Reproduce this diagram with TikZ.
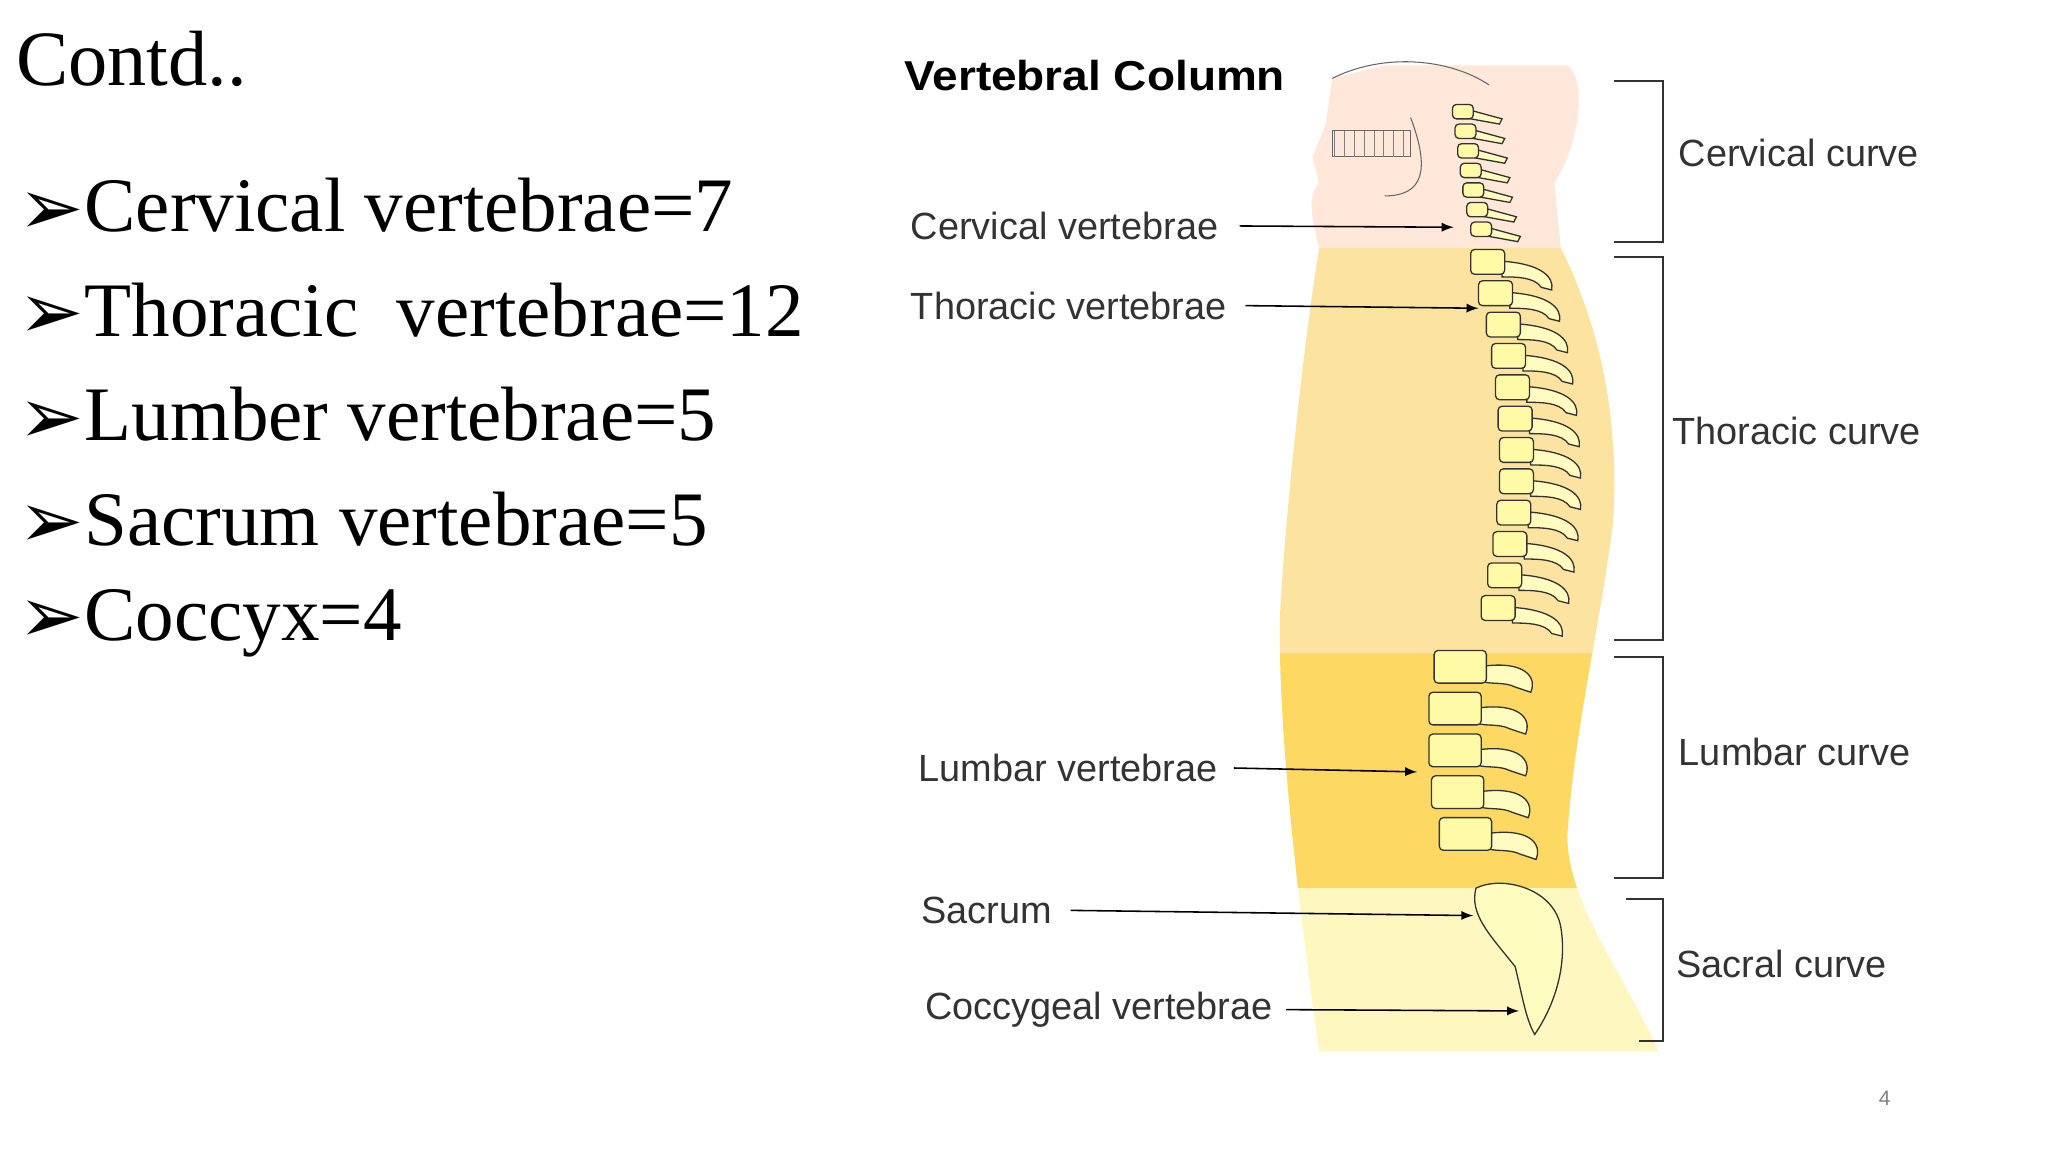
\documentclass[tikz,border=0pt]{standalone}
\usepackage{fontspec}
\setmainfont{Liberation Serif}
\newfontfamily\lab{Liberation Sans}
\newfontfamily\dv{DejaVu Sans}
\newcommand{\bul}{{\dv\fontsize{30}{30}\selectfont\raisebox{-1pt}{➢}}}
\begin{document}
\begin{tikzpicture}[x=0.5pt,y=-0.5pt,
  bullet/.style={anchor=west,font=\fontsize{29.5}{32}\selectfont,inner sep=0},
  lbl/.style={anchor=west,font=\lab\fontsize{14.5}{16}\selectfont,inner sep=0,text=black!80},
  arr/.style={-latex,semithick},
  brk/.style={thick,black!80},
  vb/.style={fill=yellow!35,draw=black!80,line width=0.5pt,rounded corners=1.5pt},
  sp/.style={fill=yellow!25,draw=black!80,line width=0.5pt}]
\useasboundingbox (0,0) rectangle (1568,882);
% body silhouette
\begin{scope}
\clip (1010,190) .. controls (1000,250) and (985,380) .. (980,470)
  .. controls (978,560) and (995,700) .. (1010,805) -- (1270,805)
  .. controls (1240,740) and (1200,690) .. (1200,640)
  .. controls (1205,560) and (1225,480) .. (1235,400)
  .. controls (1240,320) and (1225,250) .. (1195,190) -- cycle;
\fill[yellow!45!orange!35] (900,190) rectangle (1300,500);
\fill[yellow!55!orange!60] (900,500) rectangle (1300,680);
\fill[orange!25!yellow!25] (900,680) rectangle (1300,810);
\end{scope}
% head / neck
\fill[red!20!orange!15] (1010,190) .. controls (1005,170) and (1000,150) .. (1010,140)
  -- (1005,120) -- (1015,95) -- (1020,60) -- (1060,50) -- (1200,50)
  .. controls (1215,60) and (1210,110) .. (1190,140) -- (1195,190) -- cycle;
\draw[black!60] (1020,60) .. controls (1060,40) and (1110,45) .. (1140,65);
\draw[black!60] (1020,100) rectangle (1080,120);
\foreach \i in {0,...,7}{\draw[black!50] (1022+7.5*\i,100) -- (1022+7.5*\i,120);}
\draw[black!60] (1080,90) .. controls (1095,130) and (1090,150) .. (1060,150);
% spine: cervical
\foreach \y/\x in {85/1120,100/1122,115/1124,130/1126,145/1128,160/1131,175/1134}{
  \draw[sp] (\x+8,\y) -- (\x+30,\y+6) -- (\x+28,\y+10) -- (\x+6,\y+6) -- cycle;
  \draw[vb] (\x-8,\y-5) rectangle (\x+8,\y+6);}
% thoracic
\foreach \y/\x in {200/1140,224/1146,248/1152,272/1156,296/1159,320/1161,344/1162,368/1162,392/1160,416/1157,440/1153,465/1148}{
  \draw[sp] (\x+10,\y) .. controls (\x+40,\y+2) and (\x+50,\y+12) .. (\x+48,\y+22) -- (\x+40,\y+20) .. controls (\x+35,\y+12) and (\x+20,\y+12) .. (\x+10,\y+12) -- cycle;
  \draw[vb] (\x-14,\y-9) rectangle (\x+12,\y+10);}
% lumbar
\foreach \y/\x in {510/1122,542/1118,574/1118,606/1120,638/1126}{
  \draw[sp] (\x+14,\y) .. controls (\x+45,\y-4) and (\x+55,\y+8) .. (\x+50,\y+20) -- (\x+38,\y+16) .. controls (\x+30,\y+12) and (\x+20,\y+14) .. (\x+14,\y+12) -- cycle;
  \draw[vb] (\x-24,\y-12) rectangle (\x+16,\y+13);}
% sacrum + coccyx
\draw[sp] (1130,680) .. controls (1150,670) and (1190,680) .. (1195,710)
  .. controls (1200,740) and (1190,770) .. (1175,792)
  .. controls (1168,780) and (1165,760) .. (1160,740)
  .. controls (1140,715) and (1125,700) .. (1130,680) -- cycle;
% title
\node[anchor=west,inner sep=0,font=\lab\bfseries\fontsize{16}{18}\selectfont,xscale=1.1] (title) at (692,58) {Vertebral Column};
% left text
\node[anchor=west,inner sep=0,font=\fontsize{30}{32}\selectfont] (contd) at (12,45) {Contd..};
\node[bullet] (b1) at (14,158) {\bul Cervical vertebrae=7};
\node[bullet] (b2) at (14,238) {\bul Thoracic\ \ vertebrae=12};
\node[bullet] (b3) at (14,318) {\bul Lumber vertebrae=5};
\node[bullet] (b4) at (14,398) {\bul Sacrum vertebrae=5};
\node[bullet] (b5) at (14,477) {\bul Coccyx=4};
% labels and arrows
\node[lbl] (cv) at (697,173) {Cervical vertebrae};
\node[lbl] (tv) at (697,234) {Thoracic vertebrae};
\node[lbl] (lv) at (703,588) {Lumbar vertebrae};
\node[lbl] (sa) at (705,697) {Sacrum};
\node[lbl] (co) at (708,773) {Coccygeal vertebrae};
\coordinate (cvt) at (1113,174);
\coordinate (tvt) at (1132,236);
\coordinate (lvt) at (1085,591);
\coordinate (sat) at (1128,701);
\coordinate (cot) at (1163,774);
\draw[arr] ([xshift=8pt]cv.east) -- (cvt);
\draw[arr] ([xshift=7pt]tv.east) -- (tvt);
\draw[arr] ([xshift=6pt]lv.east) -- (lvt);
\draw[arr] ([xshift=7pt]sa.east) -- (sat);
\draw[arr] ([xshift=5pt]co.east) -- (cot);
% brackets
\draw[brk] (1236,62) -- (1273,62) -- (1273,185) -- (1236,185);
\draw[brk] (1236,197) -- (1273,197) -- (1273,490) -- (1236,490);
\draw[brk] (1236,503) -- (1273,503) -- (1273,672) -- (1236,672);
\draw[brk] (1245,688) -- (1273,688) -- (1273,797) -- (1255,797);
\node[lbl] (cc) at (1285,117) {Cervical curve};
\node[lbl] (tc) at (1280,330) {Thoracic curve};
\node[lbl] (lc) at (1285,576) {Lumbar curve};
\node[lbl] (sc) at (1283,738) {Sacral curve};
\node[anchor=center,inner sep=0,font=\lab\fontsize{8}{9}\selectfont,text=black!50] (pg) at (1443,841) {4};
\end{tikzpicture}
\end{document}
